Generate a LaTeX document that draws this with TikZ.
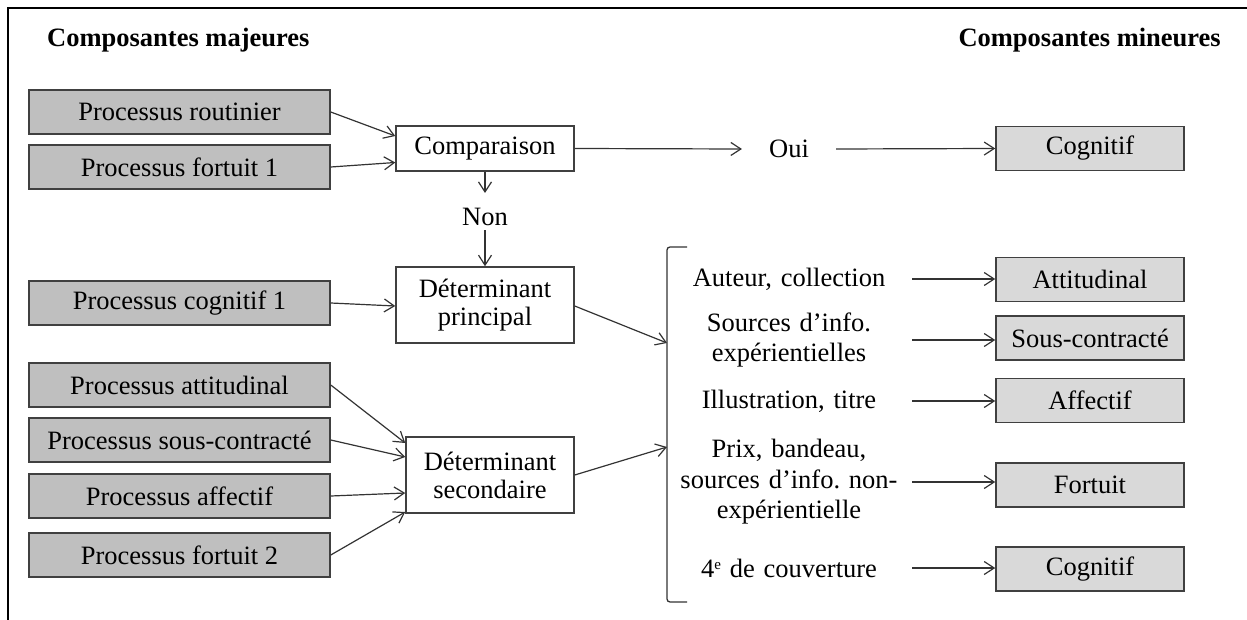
\documentclass[tikz,border=0pt]{standalone}
\usepackage{fontspec}
\setmainfont{Liberation Serif}
\usetikzlibrary{arrows.meta}
\definecolor{boxdark}{HTML}{BFBFBF}
\definecolor{boxlight}{HTML}{D9D9D9}
\definecolor{edgecol}{HTML}{404040}
\definecolor{linecol}{HTML}{333333}
\newcommand{\supe}{\raisebox{0.65ex}{\fontsize{15}{15}\selectfont e}}
\begin{document}
\frenchspacing
\begin{tikzpicture}[x=1pt,y=-1pt,
  every node/.style={font=\fontsize{26.5}{30.5}\selectfont},
  titletext/.style={font=\fontsize{26.5}{30.5}\selectfont\bfseries, inner sep=0pt},
  major/.style={draw=edgecol, line width=1.5pt, fill=boxdark, minimum width=301pt, minimum height=44pt, inner sep=0pt},
  minor/.style={draw=edgecol, line width=1.5pt, fill=boxlight, minimum width=188pt, minimum height=44pt, inner sep=0pt},
  detbox/.style={draw=edgecol, line width=1.5pt, fill=white, inner sep=0pt, align=center, font=\fontsize{26.5}{28}\selectfont},
  feat/.style={text width=246pt, inner sep=0pt, align=center},
  arr/.style={draw=linecol, line width=1.2pt, -{Straight Barb[length=10pt,width=13pt]}},
]
\useasboundingbox (0,0) rectangle (1247,620);
\draw[line width=2.5pt] (8,620) -- (8,8) -- (1247,8);

% titles
\node[titletext, anchor=west] (tmaj) at (47,40) {Composantes majeures};
\node[titletext, anchor=east] (tmin) at (1221,40) {Composantes mineures};

% major components
\node[major] (rout)  at (179.5,112) {Processus routinier};
\node[major] (fort1) at (179.5,167) {Processus fortuit 1};
\node[major] (cog1)  at (179.5,303) {Processus cognitif 1};
\node[major] (att)   at (179.5,385) {Processus attitudinal};
\node[major] (sous)  at (179.5,440) {Processus sous-contracté};
\node[major] (aff)   at (179.5,496) {Processus affectif};
\node[major] (fort2) at (179.5,555) {Processus fortuit 2};

% central boxes
\node[detbox, minimum width=178pt, minimum height=45pt] (comp) at (485,148.5) {Comparaison};
\node[inner xsep=0pt, inner ysep=4pt] (non) at (485,217) {Non};
\node[detbox, minimum width=178pt, minimum height=76pt] (princ) at (485,305) {Déterminant\\principal};
\node[detbox, minimum width=168pt, minimum height=76pt] (sec) at (490,475) {Déterminant\\secondaire};
\node[inner xsep=27pt, inner ysep=0pt] (oui) at (789,149) {Oui};

% minor components
\node[minor] (cogA) at (1090,148.5) {Cognitif};
\node[minor] (b1) at (1090,279.5) {Attitudinal};
\node[minor] (b2) at (1090,338) {Sous-contracté};
\node[minor] (b3) at (1090,400.5) {Affectif};
\node[minor] (b4) at (1090,485) {Fortuit};
\node[minor] (b5) at (1090,569) {Cognitif};

% features
\node[feat] (f1) at (789,279) {Auteur, collection};
\node[feat] (f2) at (789,340) {Sources d’info.\\expérientielles};
\node[feat] (f3) at (789,401) {Illustration, titre};
\node[feat] (f4) at (789,482) {Prix, bandeau,\\sources d’info. non-\\expérientielle};
\node[feat] (f5) at (789,568) {4\supe{} de couverture};

% bracket
\coordinate (brT) at (687,247);
\coordinate (brB) at (687,602);
\coordinate (br1) at (667,343);
\coordinate (br2) at (667,447);
\draw[draw=linecol, line width=1.3pt, rounded corners=3pt] (brT) -- (667,247) -- (667,602) -- (brB);

% connectors
\draw[arr] (rout.east) -- ([yshift=12.5pt]comp.west);
\draw[arr] (fort1.east) -- ([yshift=-14pt]comp.west);
\draw[arr, shorten >=11pt] (comp.south) -- (non.north);
\draw[arr] (non.south) -- (princ.north);
\draw[arr] (comp.east) -- (oui.west);
\draw[arr] (oui.east) -- (cogA.west);
\draw[arr] (cog1.east) -- ([yshift=-1pt]princ.west);
\draw[arr] ([yshift=-1pt]princ.east) -- (br1);
\draw[arr] (att.east) -- ([yshift=32pt]sec.west);
\draw[arr] (sous.east) -- ([yshift=18pt]sec.west);
\draw[arr] (aff.east) -- ([yshift=-18pt]sec.west);
\draw[arr] (fort2.east) -- ([yshift=-37pt]sec.west);
\draw[arr] (sec.east) -- (br2);
\draw[arr] (f1.east) -- (f1.east -| b1.west);
\draw[arr] (f2.east) -- (f2.east -| b2.west);
\draw[arr] (f3.east) -- (f3.east -| b3.west);
\draw[arr] (f4.east) -- (f4.east -| b4.west);
\draw[arr] (f5.east) -- (f5.east -| b5.west);
\end{tikzpicture}
\end{document}
